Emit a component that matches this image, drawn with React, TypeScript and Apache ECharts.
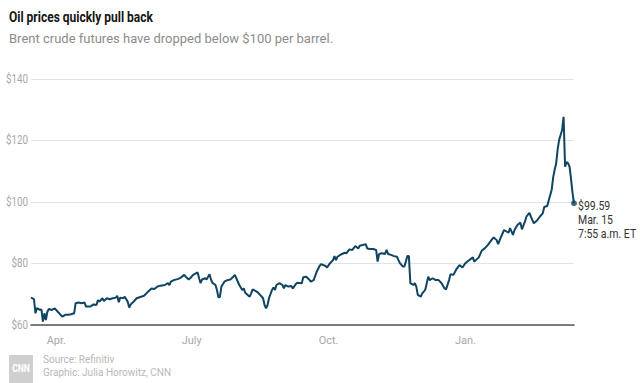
import React, { useEffect, useRef } from "react";
import * as echarts from "echarts";

const dates = [
  "2021-03-15","2021-03-17","2021-03-18","2021-03-19","2021-03-21","2021-03-22","2021-03-23","2021-03-24","2021-03-25","2021-03-26",
  "2021-03-27","2021-03-29","2021-03-31","2021-04-02","2021-04-03","2021-04-05","2021-04-07","2021-04-09","2021-04-11","2021-04-13",
  "2021-04-14","2021-04-16","2021-04-18","2021-04-20","2021-04-21","2021-04-24","2021-04-26","2021-04-28","2021-04-29","2021-04-30",
  "2021-05-02","2021-05-03","2021-05-05","2021-05-07","2021-05-09","2021-05-11","2021-05-12","2021-05-13","2021-05-14","2021-05-16",
  "2021-05-17","2021-05-19","2021-05-20","2021-05-21","2021-05-23","2021-05-25","2021-05-28","2021-05-30","2021-05-31","2021-06-02",
  "2021-06-04","2021-06-06","2021-06-08","2021-06-10","2021-06-13","2021-06-15","2021-06-16","2021-06-17","2021-06-19","2021-06-22",
  "2021-06-24","2021-06-26","2021-06-27","2021-06-29","2021-06-30","2021-07-02","2021-07-05","2021-07-06","2021-07-07","2021-07-08",
  "2021-07-10","2021-07-11","2021-07-13","2021-07-14","2021-07-15","2021-07-17","2021-07-18","2021-07-19","2021-07-20","2021-07-21",
  "2021-07-23","2021-07-25","2021-07-27","2021-07-29","2021-07-30","2021-07-31","2021-08-02","2021-08-04","2021-08-05","2021-08-06",
  "2021-08-09","2021-08-10","2021-08-11","2021-08-14","2021-08-16","2021-08-18","2021-08-19","2021-08-20","2021-08-21","2021-08-22",
  "2021-08-24","2021-08-25","2021-08-26","2021-08-27","2021-08-29","2021-08-31","2021-09-01","2021-09-02","2021-09-04","2021-09-06",
  "2021-09-07","2021-09-09","2021-09-10","2021-09-13","2021-09-14","2021-09-16","2021-09-18","2021-09-19","2021-09-21","2021-09-23",
  "2021-09-25","2021-09-26","2021-09-29","2021-09-30","2021-10-02","2021-10-04","2021-10-05","2021-10-06","2021-10-07","2021-10-10",
  "2021-10-12","2021-10-13","2021-10-15","2021-10-17","2021-10-19","2021-10-21","2021-10-22","2021-10-24","2021-10-26","2021-10-27",
  "2021-10-29","2021-10-31","2021-11-02","2021-11-03","2021-11-04","2021-11-06","2021-11-08","2021-11-09","2021-11-10","2021-11-12",
  "2021-11-14","2021-11-16","2021-11-17","2021-11-18","2021-11-20","2021-11-21","2021-11-23","2021-11-24","2021-11-25","2021-11-27",
  "2021-11-28","2021-11-29","2021-11-30","2021-12-02","2021-12-03","2021-12-05","2021-12-07","2021-12-08","2021-12-10","2021-12-12",
  "2021-12-14","2021-12-16","2021-12-18","2021-12-19","2021-12-21","2021-12-22","2021-12-24","2021-12-26","2021-12-28","2021-12-30",
  "2022-01-01","2022-01-03","2022-01-06","2022-01-07","2022-01-10","2022-01-12","2022-01-14","2022-01-16","2022-01-19","2022-01-20",
  "2022-01-22","2022-01-23","2022-01-25","2022-01-27","2022-01-30","2022-01-31","2022-02-02","2022-02-03","2022-02-05","2022-02-07",
  "2022-02-08","2022-02-10","2022-02-11","2022-02-13","2022-02-15","2022-02-16","2022-02-18","2022-02-20","2022-02-22","2022-02-23",
  "2022-02-25","2022-02-26","2022-02-28","2022-03-01","2022-03-02","2022-03-03","2022-03-04","2022-03-05","2022-03-06","2022-03-07",
  "2022-03-08","2022-03-09","2022-03-10","2022-03-11","2022-03-12","2022-03-13","2022-03-14","2022-03-15"
];

const prices = [
  68.9,68.4,63.8,65.5,64.9,65.1,61.1,63.8,61.6,64.3,
  65.2,64.9,65.4,64.3,63.8,62.7,63.3,63.3,63.5,63.8,
  67.1,67.3,67.1,67.3,66.0,66.0,66.7,66.5,68.1,67.6,
  68.7,67.8,68.7,68.4,68.7,68.9,69.5,67.4,68.9,68.7,
  69.2,67.6,65.7,66.7,67.6,68.7,69.2,69.5,70.0,71.0,
  71.9,71.7,72.5,72.8,73.0,73.6,73.0,74.1,74.6,75.0,
  75.5,76.3,75.7,74.8,75.2,76.3,77.1,75.2,73.6,74.8,
  75.2,74.8,76.5,74.8,73.7,73.0,71.4,69.0,69.2,72.5,
  74.1,74.6,74.8,75.7,76.3,75.2,73.0,71.4,71.9,70.5,
  69.2,70.3,71.6,70.8,69.8,68.7,66.5,65.4,66.5,68.7,
  71.4,72.2,71.4,73.0,73.6,73.0,71.9,73.0,72.5,72.7,
  71.9,73.3,73.7,73.6,75.5,75.7,74.8,74.1,74.6,77.3,
  79.2,79.8,79.2,78.7,80.1,81.1,82.4,81.1,82.2,83.1,
  83.5,83.3,84.6,84.4,85.7,84.9,85.8,86.0,86.3,84.9,
  84.7,84.7,84.4,80.6,83.1,83.3,83.1,84.4,83.1,82.8,
  82.4,82.2,81.1,80.1,79.0,79.0,82.4,82.4,73.6,73.0,
  73.6,72.5,69.8,69.2,70.3,71.4,75.7,74.6,75.2,74.6,
  74.6,73.6,71.9,71.6,74.6,76.5,76.3,78.2,79.5,78.7,
  80.1,80.9,82.0,80.6,82.0,84.2,84.9,86.0,87.9,88.5,
  87.6,86.3,88.7,90.9,90.0,91.5,89.3,90.9,92.5,93.3,
  91.1,93.6,95.2,96.5,94.1,93.1,93.9,95.2,96.3,98.4,
  98.7,100.5,104.0,108.0,110.5,112.5,117.0,120.2,121.8,123.4,
  127.7,111.5,113.0,112.6,111.5,107.5,103.0,99.59
];

const tickDates = ["2021-04-01", "2021-07-01", "2021-10-01", "2022-01-01"];
const tickLabels = ["Apr.", "July", "Oct.", "Jan."];
const xRange = ["2021-03-15", "2022-03-15"];
const yTicks = [60, 80, 100, 120, 140];
const endNote = ["$99.59", "Mar. 15", "7:55 a.m. ET"];
const titleText = "Oil prices quickly pull back";
const subtitleText = "Brent crude futures have dropped below $100 per barrel.";
const sourceLines = ["Source: Refinitiv", "Graphic: Julia Horowitz, CNN"];

const LINE = "#0f4462";
const FONT = "Roboto, sans-serif";

export default function App() {
  const ref = useRef<HTMLDivElement>(null);
  useEffect(() => {
    if (!ref.current) return;
    const chart = echarts.init(ref.current, null, { renderer: "svg" });
    const t = (s: string) => +echarts.number.parseDate(s);
    const tickTimes = tickDates.map(t);
    const seriesData = dates.map((d, i) => [t(d), prices[i]]);
    const last = seriesData[seriesData.length - 1];

    const staticGraphics: any[] = [
      {
        type: "text",
        x: 9,
        y: 16,
        scaleX: 0.8,
        style: {
          text: titleText,
          fontSize: 15,
          fontWeight: "bold",
          fontFamily: FONT,
          fill: "#151515",
          verticalAlign: "middle",
        },
      },
      {
        type: "text",
        x: 9,
        y: 38,
        style: {
          text: subtitleText,
          fontSize: 13,
          fontFamily: FONT,
          fill: "#8c8c8c",
          verticalAlign: "middle",
        },
      },
      {
        type: "rect",
        shape: { x: 9, y: 355, width: 24, height: 32, r: 1 },
        style: { fill: "#cfcfcf" },
      },
      {
        type: "text",
        x: 21,
        y: 368,
        scaleX: 0.85,
        style: {
          text: "CNN",
          fontSize: 10,
          fontWeight: "bold",
          fontFamily: FONT,
          fill: "#ffffff",
          align: "center",
          verticalAlign: "middle",
        },
      },
      {
        type: "text",
        x: 43,
        y: 359,
        scaleX: 0.87,
        style: {
          text: sourceLines[0],
          fontSize: 11.5,
          fontFamily: FONT,
          fill: "#b8b8b8",
          verticalAlign: "middle",
        },
      },
      {
        type: "text",
        x: 43,
        y: 372,
        scaleX: 0.87,
        style: {
          text: sourceLines[1],
          fontSize: 11.5,
          fontFamily: FONT,
          fill: "#b8b8b8",
          verticalAlign: "middle",
        },
      },
    ];

    chart.setOption({
      animation: false,
      backgroundColor: "#ffffff",
      grid: { left: 31, right: 66, top: 79, bottom: 58, containLabel: false },
      xAxis: {
        type: "value",
        min: t(xRange[0]),
        max: t(xRange[1]),
        axisLine: { show: true, onZero: false, lineStyle: { color: "#555555", width: 1.6 } },
        axisTick: { show: false },
        splitLine: { show: false },
        axisLabel: {
          customValues: tickTimes,
          formatter: (v: number) => {
            let best = 0;
            for (let i = 1; i < tickTimes.length; i++) {
              if (Math.abs(tickTimes[i] - v) < Math.abs(tickTimes[best] - v)) best = i;
            }
            return tickLabels[best];
          },
          color: "#a8a8a8",
          fontSize: 11,
          fontFamily: FONT,
          margin: 10,
        },
      },
      yAxis: {
        type: "value",
        min: yTicks[0],
        max: yTicks[yTicks.length - 1],
        interval: yTicks[1] - yTicks[0],
        axisLine: { show: false },
        axisTick: { show: false },
        splitLine: { show: true, lineStyle: { color: "#e3e3e3", width: 1 } },
        axisLabel: { show: false },
      },
      series: [
        {
          type: "line",
          data: seriesData,
          showSymbol: false,
          symbol: "none",
          lineStyle: { color: LINE, width: 2 },
          z: 3,
        },
        {
          type: "scatter",
          data: [last],
          symbolSize: 6,
          itemStyle: { color: LINE },
          z: 4,
        },
      ],
      graphic: staticGraphics,
    });

    const yLabelGraphics = yTicks.map((v) => {
      const py = chart.convertToPixel({ yAxisIndex: 0 }, v) as number;
      return {
        type: "text",
        x: 28,
        y: py,
        scaleX: 0.82,
        style: {
          text: "$" + v,
          fontSize: 12,
          fontFamily: FONT,
          fill: "#a8a8a8",
          align: "right",
          verticalAlign: "middle",
        },
      };
    });
    const lp = chart.convertToPixel({ gridIndex: 0 }, last) as number[];
    const noteGraphic = {
      type: "text",
      x: lp[0] + 4,
      y: lp[1] - 5,
      scaleX: 0.84,
      style: {
        text: endNote.join("\n"),
        fontSize: 12.5,
        lineHeight: 14,
        fontFamily: FONT,
        fill: "#333333",
        align: "left",
        verticalAlign: "top",
      },
    };
    chart.setOption({ graphic: [...staticGraphics, ...yLabelGraphics, noteGraphic] });

    return () => chart.dispose();
  }, []);
  return (
    <div
      ref={ref}
      style={{ position: "fixed", left: 0, top: 0, width: 640, height: 383, background: "#fff" }}
    />
  );
}
